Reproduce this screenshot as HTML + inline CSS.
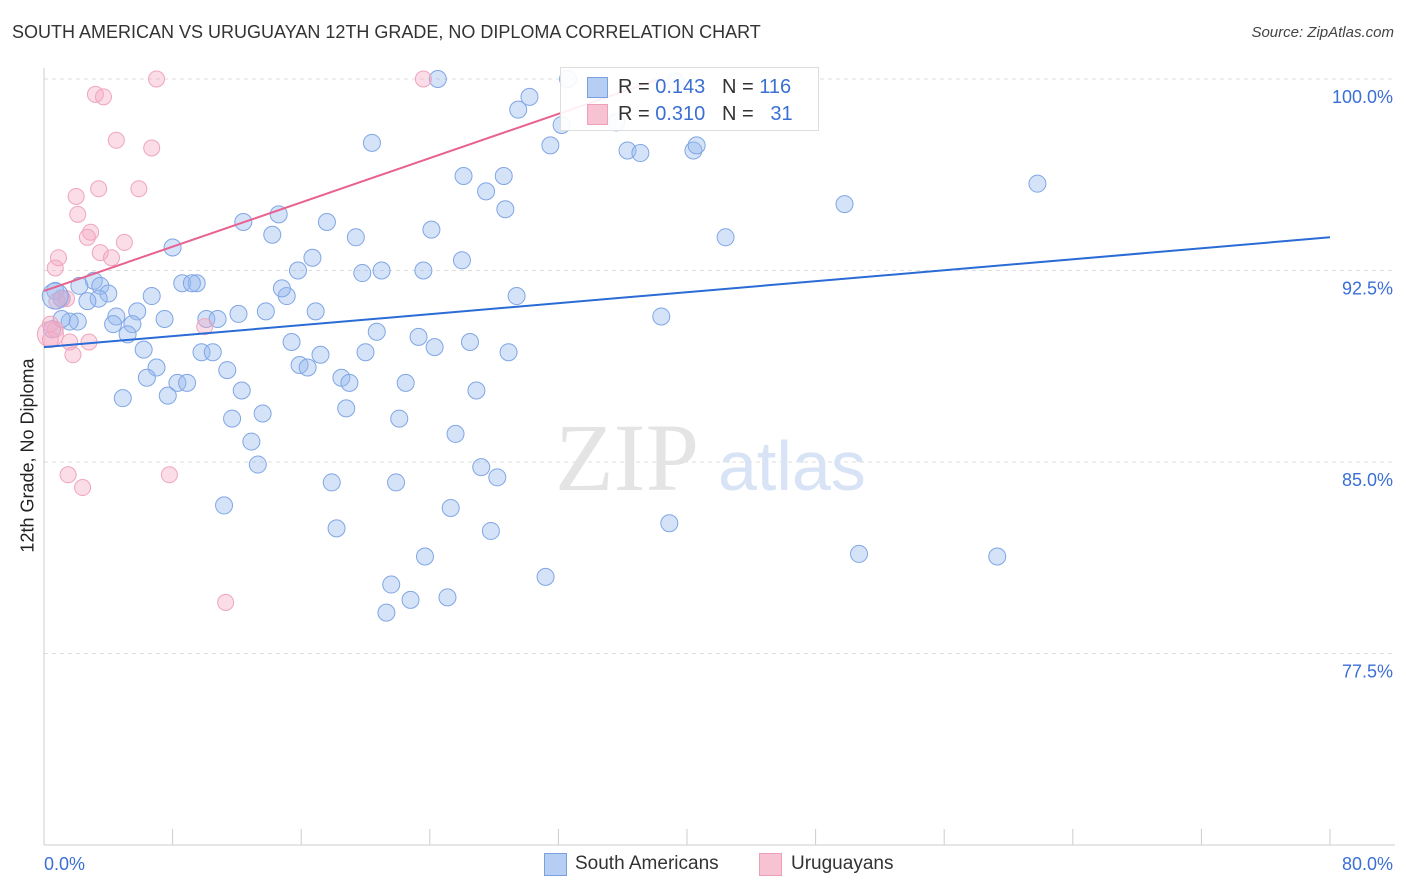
<!DOCTYPE html>
<html><head><meta charset="utf-8">
<style>
body{margin:0;background:#fff;font-family:"Liberation Sans",sans-serif;}
#wrap{position:relative;width:1406px;height:892px;overflow:hidden;}
.t{position:absolute;white-space:nowrap;}
</style></head>
<body><div id="wrap">
<div class="t" style="left:12px;top:22px;font-size:18px;color:#333;">SOUTH AMERICAN VS URUGUAYAN 12TH GRADE, NO DIPLOMA CORRELATION CHART</div>
<div class="t" style="right:12px;top:24px;font-size:15px;color:#444;font-style:italic;">Source: ZipAtlas.com</div>
<div class="t" style="left:-72px;top:445px;width:200px;text-align:center;font-size:18px;color:#222;transform:rotate(-90deg);">12th Grade, No Diploma</div>
<svg id="plot" width="1406" height="892" style="position:absolute;left:0;top:0"></svg>
<div style="position:absolute;left:560px;top:67px;width:257px;height:62px;border:1px solid #ddd;background:rgba(255,255,255,0.9);">
 <div style="position:absolute;left:26px;top:9px;width:19px;height:19px;background:#b6cef3;border:1px solid #7aa0e0;"></div>
 <div class="t" style="left:57px;top:8px;font-size:20px;color:#333;">R = <span style="color:#3b6fd4">0.143</span> &nbsp;&nbsp;N = <span style="color:#3b6fd4">116</span></div>
 <div style="position:absolute;left:26px;top:36px;width:19px;height:19px;background:#f7c3d3;border:1px solid #eea0b8;"></div>
 <div class="t" style="left:57px;top:35px;font-size:20px;color:#333;">R = <span style="color:#3b6fd4">0.310</span> &nbsp;&nbsp;N = &nbsp;&nbsp;<span style="color:#3b6fd4">31</span></div>
</div>
<div style="position:absolute;left:544px;top:853px;width:21px;height:21px;background:#b6cef3;border:1px solid #7aa0e0;"></div>
<div class="t" style="left:575px;top:853px;font-size:19px;color:#333;">South Americans</div>
<div style="position:absolute;left:759px;top:853px;width:21px;height:21px;background:#f7c3d3;border:1px solid #eea0b8;"></div>
<div class="t" style="left:791px;top:853px;font-size:19px;color:#333;">Uruguayans</div>
</div>
<script>
const yTicks=[100,92.5,85,77.5];
const yTickLabels=["100.0%","92.5%","85.0%","77.5%"];
const xTickLabels=["0.0%","80.0%"];
const blueX=[32.6,24.5,39.3,30.2,29.5,35.6,32.2,20.4,31.5,36.3,37.1,40.4,40.6,26.1,28.6,27.5,61.8,49.8,28.7,12.4,14.6,17.6,14.2,19.4,24.1,42.4,8.0,16.7,26.0,15.8,21.0,19.8,23.6,3.1,2.2,0.7,3.5,8.6,9.5,9.2,4.0,3.4,2.7,1.1,6.7,15.1,14.8,29.4,16.9,13.8,12.1,10.1,10.8,7.5,4.5,5.8,4.3,5.5,5.2,2.1,1.6,1.1,0.5,20.7,23.3,26.5,38.4,15.4,24.3,6.2,9.8,10.5,17.2,20.0,28.9,15.9,16.4,7.0,11.4,18.5,19.0,22.5,6.4,8.3,8.9,12.3,26.9,7.7,4.9,13.6,18.8,11.7,22.1,25.6,12.9,13.3,27.2,28.2,17.9,21.9,11.2,25.3,38.9,18.2,27.8,50.7,59.3,23.7,31.2,21.6,25.1,22.8,21.3];
const blueY=[100,100,99.9,99.3,98.8,98.3,98.2,97.5,97.4,97.2,97.1,97.2,97.4,96.2,96.2,95.6,95.9,95.1,94.9,94.4,94.7,94.4,93.9,93.8,94.1,93.8,93.4,93.0,92.9,92.5,92.5,92.4,92.5,92.1,91.9,91.7,91.9,92.0,92.0,92.0,91.6,91.4,91.3,91.4,91.5,91.5,91.8,91.5,90.9,90.9,90.8,90.6,90.6,90.6,90.7,90.9,90.4,90.4,90.0,90.5,90.5,90.6,90.2,90.1,89.9,89.7,90.7,89.7,89.5,89.4,89.3,89.3,89.2,89.3,89.3,88.8,88.7,88.7,88.6,88.3,88.1,88.1,88.3,88.1,88.1,87.8,87.8,87.6,87.5,86.9,87.1,86.7,86.7,86.1,85.8,84.9,84.8,84.4,84.2,84.2,83.3,83.2,82.6,82.4,82.3,81.4,81.3,81.3,80.5,80.2,79.7,79.6,79.1];
const pinkX=[7.0,23.6,3.2,3.7,4.5,6.7,3.4,2.0,5.9,2.1,2.9,2.7,5.0,3.5,4.2,0.9,0.7,1.1,0.8,0.7,0.4,1.6,2.8,1.8,10.0,1.5,2.4,7.8,11.3,1.4,0.4];
const pinkY=[100,100,99.4,99.3,97.6,97.3,95.7,95.4,95.7,94.7,94.0,93.8,93.6,93.2,93.0,93.0,92.6,91.4,91.3,90.2,89.8,89.7,89.7,89.2,90.3,84.5,84.0,84.5,79.5,91.4,90.4];
const blueTrend=[[0,89.5],[80,93.8]];
const pinkTrend=[[0,91.7],[38.3,100]];
const X0=44,X1=1330,Y0=79,Y1=845,xMax=80,yMin=70,yMax=100;
const sx=v=>X0+v/xMax*(X1-X0);
const sy=v=>Y0+(yMax-v)/(yMax-yMin)*(Y1-Y0);
const svg=document.getElementById('plot');
const NS='http://www.w3.org/2000/svg';
function mk(tag,attrs){const e=document.createElementNS(NS,tag);for(const k in attrs)e.setAttribute(k,attrs[k]);svg.appendChild(e);return e;}
yTicks.forEach((v,i)=>{
 const g=mk('line',{x1:X0,x2:1395,y1:sy(v),y2:sy(v),stroke:'#ddd','stroke-dasharray':'4,4'});
 
 
 const t=mk('text',{x:1393,y:sy(v)+24,'text-anchor':'end','font-size':18,fill:'#3b6fd4','font-family':'Liberation Sans'});
 t.textContent=yTickLabels[i];
 
 
});
const ax=mk('line',{x1:X0,x2:X0,y1:68,y2:Y1,stroke:'#ccc'});


const bx=mk('line',{x1:X0,x2:1395,y1:Y1,y2:Y1,stroke:'#ccc'});


for(let v=0;v<=80;v+=8){
 const tk=mk('line',{x1:sx(v),x2:sx(v),y1:Y1,y2:Y1-16,stroke:'#ccc'});
 
 
}
[[0,'start',X0],[1,'end',1393]].forEach(([i,a,x])=>{
 const t=mk('text',{x:x,y:870,'text-anchor':a,'font-size':18,fill:'#3b6fd4','font-family':'Liberation Sans'});
 t.textContent=xTickLabels[i];
 
 
});
const w1=mk('text',{x:555,y:490,'font-size':96,fill:'#e4e4e4','font-family':'Liberation Serif'});w1.textContent='ZIP';


const w2=mk('text',{x:718,y:490,'font-size':70,fill:'#d8e4f6','font-family':'Liberation Sans'});w2.textContent='atlas';


blueX.forEach((x,i)=>{
 const c=mk('circle',{cx:sx(x),cy:sy(blueY[i]),r:8.5,fill:'rgba(150,185,240,0.4)',stroke:'#80a6e4','stroke-width':1});
 
 
});
pinkX.forEach((x,i)=>{
 const c=mk('circle',{cx:sx(x),cy:sy(pinkY[i]),r:8,fill:'rgba(245,170,195,0.4)',stroke:'#efa5bd','stroke-width':1});
 
 
});
const big=mk('circle',{cx:sx(0.7),cy:sy(91.5),r:13,fill:'rgba(150,185,240,0.4)',stroke:'#80a6e4'});


const big2=mk('circle',{cx:sx(0.4),cy:sy(90.0),r:13,fill:'rgba(245,170,195,0.4)',stroke:'#efa5bd'});


const bl=mk('line',{x1:sx(blueTrend[0][0]),y1:sy(blueTrend[0][1]),x2:sx(blueTrend[1][0]),y2:sy(blueTrend[1][1]),stroke:'#2a6bd6','stroke-width':2});


const pl=mk('line',{x1:sx(pinkTrend[0][0]),y1:sy(pinkTrend[0][1]),x2:sx(pinkTrend[1][0]),y2:sy(pinkTrend[1][1]),stroke:'#e8628f','stroke-width':2});


</script>
</body></html>
